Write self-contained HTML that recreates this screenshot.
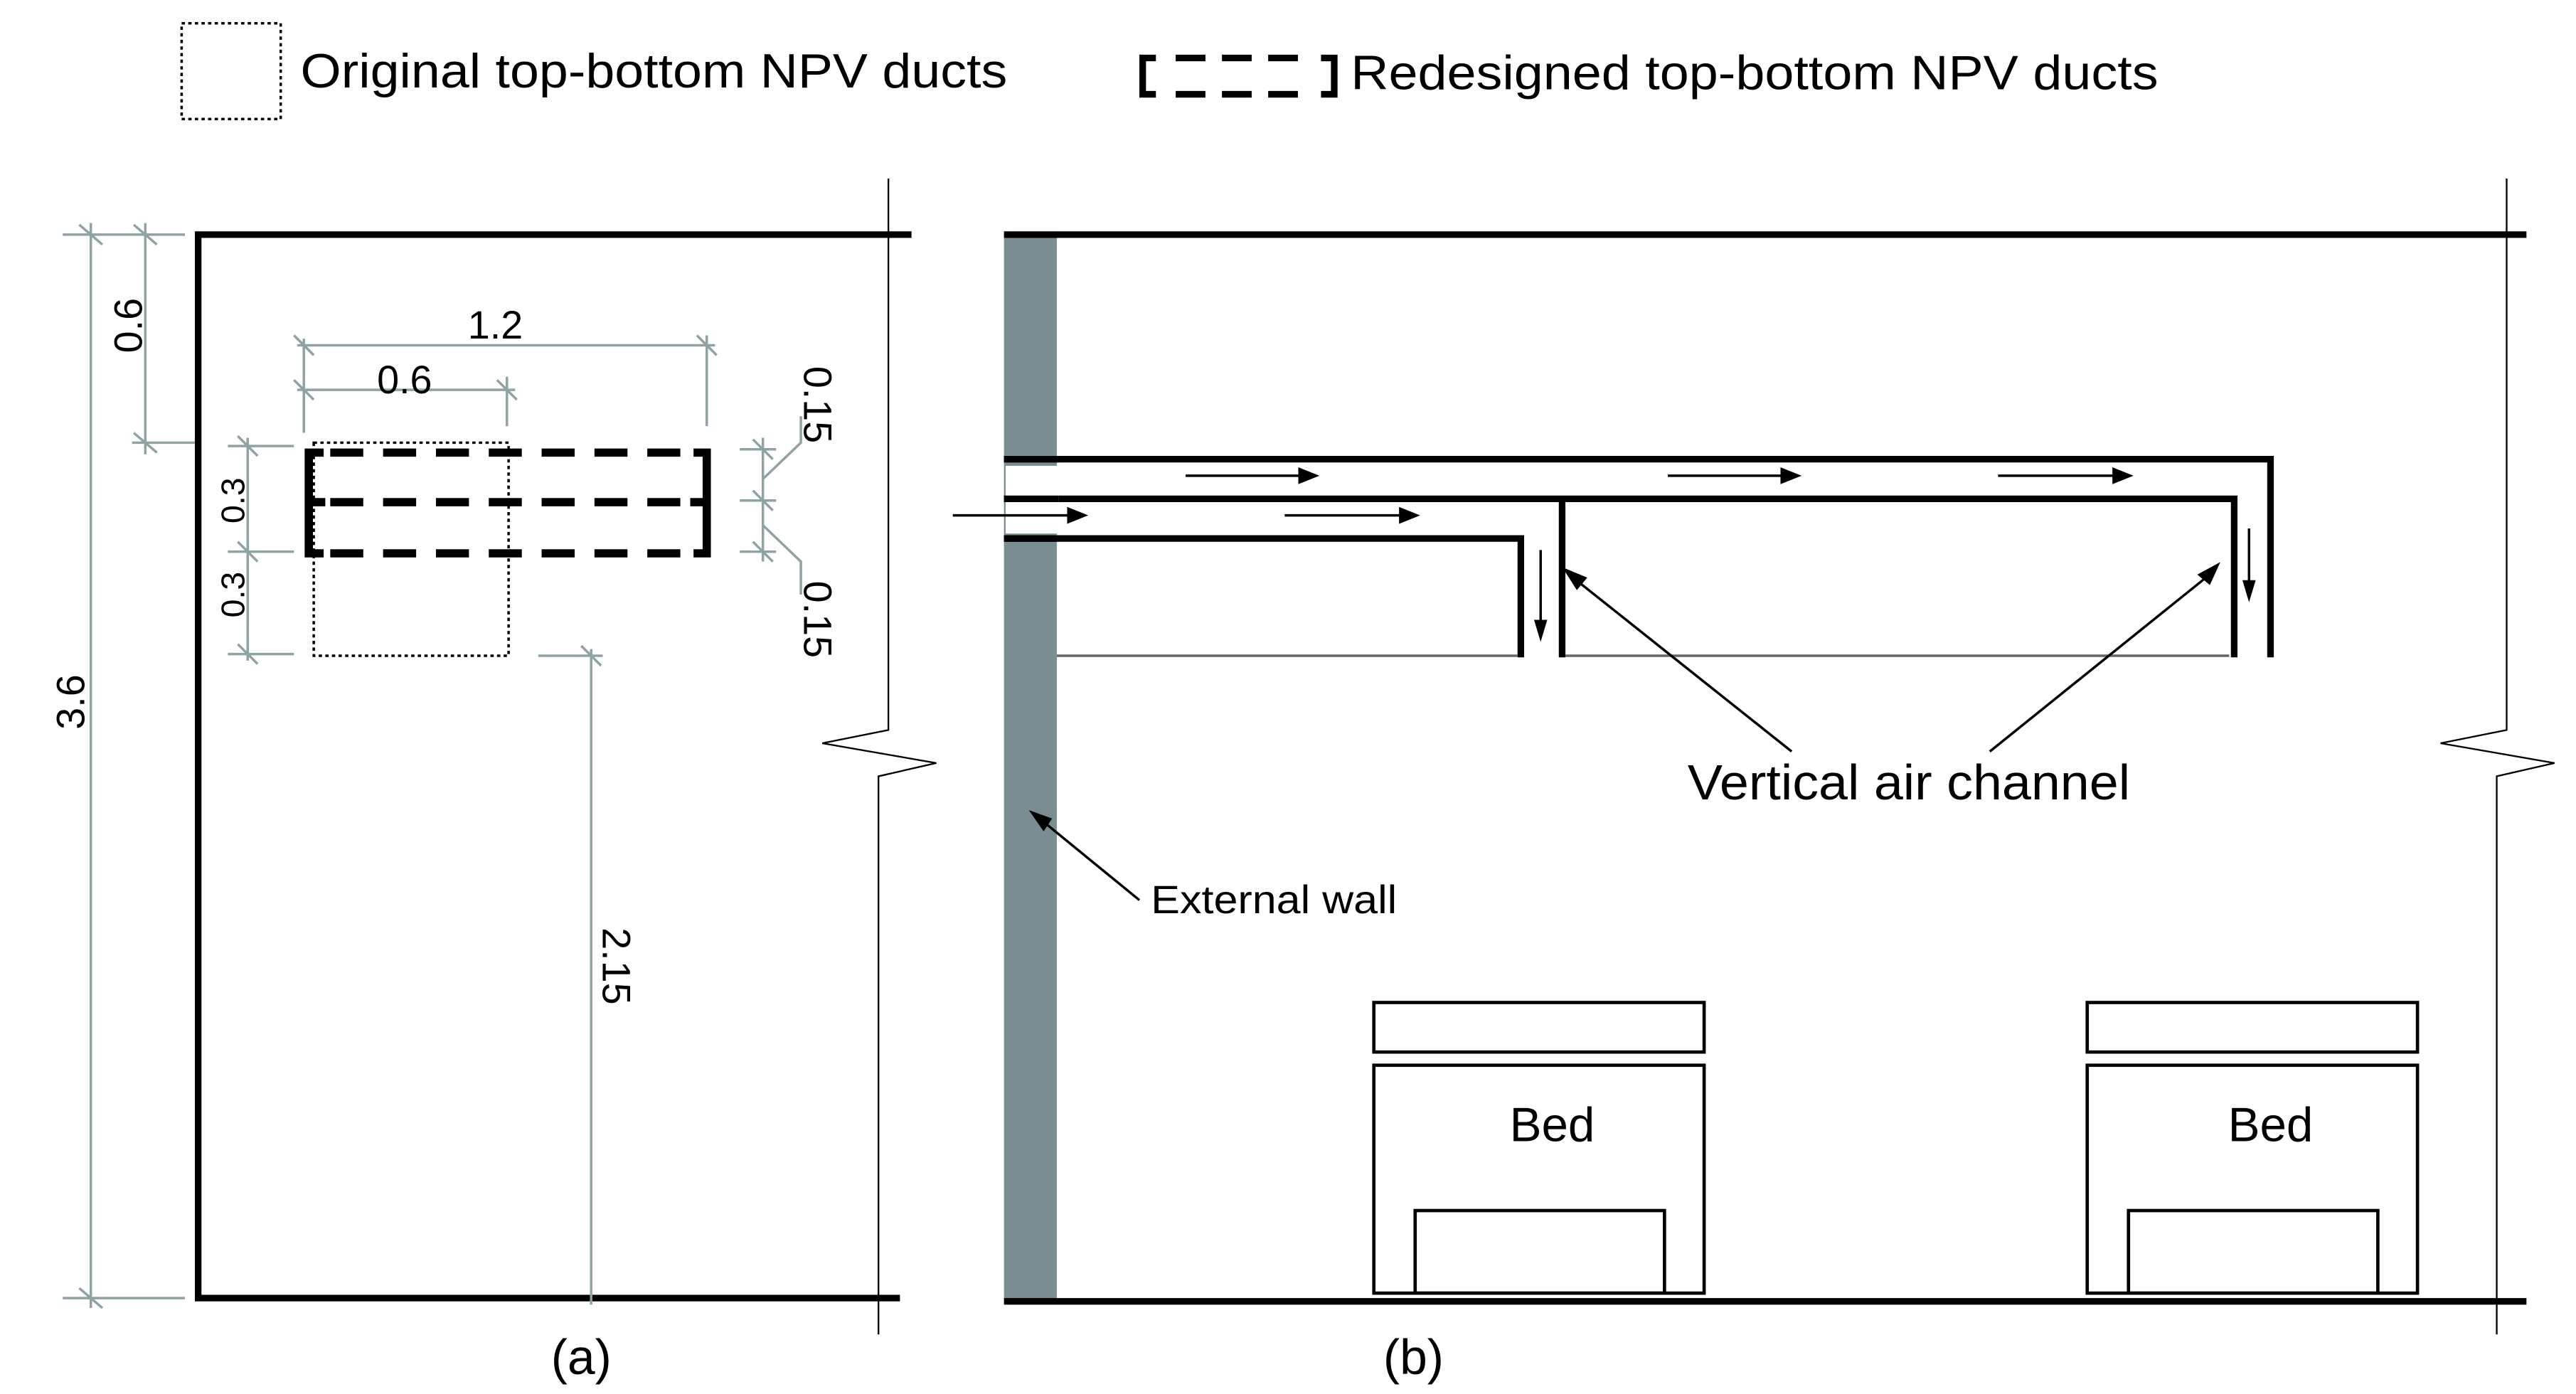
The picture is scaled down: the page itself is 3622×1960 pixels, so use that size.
<!DOCTYPE html>
<html><head><meta charset="utf-8"><style>html,body{margin:0;padding:0;background:#fff}svg{display:block}</style></head>
<body>
<svg width="3622" height="1960" viewBox="0 0 1560 844" xmlns="http://www.w3.org/2000/svg" font-family="Liberation Sans, Arial, sans-serif">
<rect width="1560" height="844" fill="#fff"/>
<!-- legend -->
<rect x="110" y="14" width="60" height="58" fill="none" stroke="#000" stroke-width="1.5" stroke-dasharray="2,2"/>
<text x="182" y="53" font-size="29" textLength="428" lengthAdjust="spacingAndGlyphs">Original top-bottom NPV ducts</text>
<path d="M700,35 H692 V57 H700" fill="none" stroke="#000" stroke-width="4"/>
<path d="M800,35 H808 V57 H800" fill="none" stroke="#000" stroke-width="4"/>
<path d="M712,35 H790 M712,57 H790" stroke="#000" stroke-width="4" stroke-dasharray="18,10"/>
<text x="818" y="54" font-size="29" textLength="489" lengthAdjust="spacingAndGlyphs">Redesigned top-bottom NPV ducts</text>

<!-- panel a -->
<path d="M552,142 H120 V786 H545" fill="none" stroke="#000" stroke-width="4"/>
<path d="M538,108 V442 L498,450 L567,462 L532,470 V808" fill="none" stroke="#000" stroke-width="1"/>
<g stroke="#8fa3a3" stroke-width="1.5" fill="none">
<path d="M55,135 V792 M38,142 H112 M38,786 H112"/>
<path d="M48,136 L62,148 M48,780 L62,792"/>
<path d="M88,135 V275 M80,268 H118 M81,136 L95,148 M81,262 L95,274"/>
<path d="M180,209 H433 M184,205 V262 M428,203 V258 M178,203 L190,215 M422,203 L434,215"/>
<path d="M180,236 H312 M184,232 V262 M307,228 V258 M178,230 L190,242 M301,230 L313,242"/>
<path d="M150,265 V400 M138,270 H178 M138,334 H178 M138,396 H178 M144,264 L156,276 M144,328 L156,340 M144,390 L156,402"/>
<path d="M462,265 V340 M448,272 H470 M448,303 H470 M448,334 H470 M456,266 L468,278 M456,297 L468,309 M456,328 L468,340"/>
<path d="M462,290 L485,268 V252 M462,318 L485,340 V360"/>
<path d="M358,393 V790 M326,397 H365 M352,391 L364,403"/>
</g>
<text font-size="24" transform="translate(86,197) rotate(-90)" text-anchor="middle">0.6</text>
<text font-size="24" transform="translate(51,425) rotate(-90)" text-anchor="middle">3.6</text>
<text font-size="24" x="300" y="205" text-anchor="middle">1.2</text>
<text font-size="24" x="245" y="238" text-anchor="middle">0.6</text>
<text font-size="20" transform="translate(148,303) rotate(-90)" text-anchor="middle">0.3</text>
<text font-size="20" transform="translate(148,360) rotate(-90)" text-anchor="middle">0.3</text>
<text font-size="24" transform="translate(487,245) rotate(90)" text-anchor="middle">0.15</text>
<text font-size="24" transform="translate(487,375) rotate(90)" text-anchor="middle">0.15</text>
<text font-size="24" transform="translate(365,585) rotate(90)" text-anchor="middle">2.15</text>
<rect x="190" y="268" width="118" height="129" fill="none" stroke="#000" stroke-width="1.5" stroke-dasharray="2,2"/>
<path d="M196,274 H187 V335 H196 M420,274 H428 V335 H420" fill="none" stroke="#000" stroke-width="5"/>
<path d="M200,274 H418 M200,304 H418 M200,335 H418" stroke="#000" stroke-width="5" stroke-dasharray="20,12"/>
<path d="M187,304 H197 M418,304 H428" stroke="#000" stroke-width="5"/>
<text font-size="30" x="352" y="832" text-anchor="middle">(a)</text>

<!-- panel b -->
<rect x="608" y="142" width="32" height="645" fill="#7a8e92"/>
<path d="M608,142 H1530 M608,788 H1530" stroke="#000" stroke-width="4"/>
<path d="M1518,108 V442 L1478,450 L1547,462 L1512,470 V808" fill="none" stroke="#000" stroke-width="1"/>
<g fill="none" stroke="#000" stroke-width="4">
<path d="M608,278 H1375 V398"/>
<path d="M608,302 H1353 V398 M946,302 V398"/>
<path d="M608,326 H921 V398"/>
</g>
<rect x="609" y="282" width="32" height="41" fill="#fff"/>
<path d="M608,278 H641 M608,302 H641 M608,326 H641" stroke="#000" stroke-width="4"/>
<path d="M640,397 H919 M948,397 H1350" stroke="#666" stroke-width="1.5"/>
<g stroke="#000" stroke-width="1.5" fill="#000">
<path d="M718,288 H790 M1010,288 H1082 M1210,288 H1283 M577,312 H650 M778,312 H850"/>
<path d="M797,288 l-10,-4 v8z M1089,288 l-10,-4 v8z M1290,288 l-10,-4 v8z M657,312 l-10,-4 v8z M858,312 l-10,-4 v8z"/>
<path d="M933,333 V378 M1362,320 V354"/>
<path d="M933,386 l-3,-10 h6z M1362,362 l-3,-10 h6z"/>
<path d="M1085,455 L953,350 M1205,455 L1338,348 M690,545 L630,496"/>
<path d="M948,345 l12,5 -5,6z M1343,342 l-5,11 -6,-5z M625,492 l11,4 -4,6z"/>
</g>
<text x="1022" y="484" font-size="30" textLength="268" lengthAdjust="spacingAndGlyphs">Vertical air channel</text>
<text x="697" y="553" font-size="24" textLength="149" lengthAdjust="spacingAndGlyphs">External wall</text>
<g fill="none" stroke="#000" stroke-width="2">
<rect x="832" y="607" width="200" height="30"/><rect x="832" y="645" width="200" height="138"/><rect x="857" y="733" width="151" height="50"/>
<rect x="1264" y="607" width="200" height="30"/><rect x="1264" y="645" width="200" height="138"/><rect x="1289" y="733" width="151" height="50"/>
</g>
<text x="940" y="691" font-size="29" text-anchor="middle">Bed</text>
<text x="1375" y="691" font-size="29" text-anchor="middle">Bed</text>
<text font-size="30" x="856" y="832" text-anchor="middle">(b)</text>
</svg>
</body></html>
